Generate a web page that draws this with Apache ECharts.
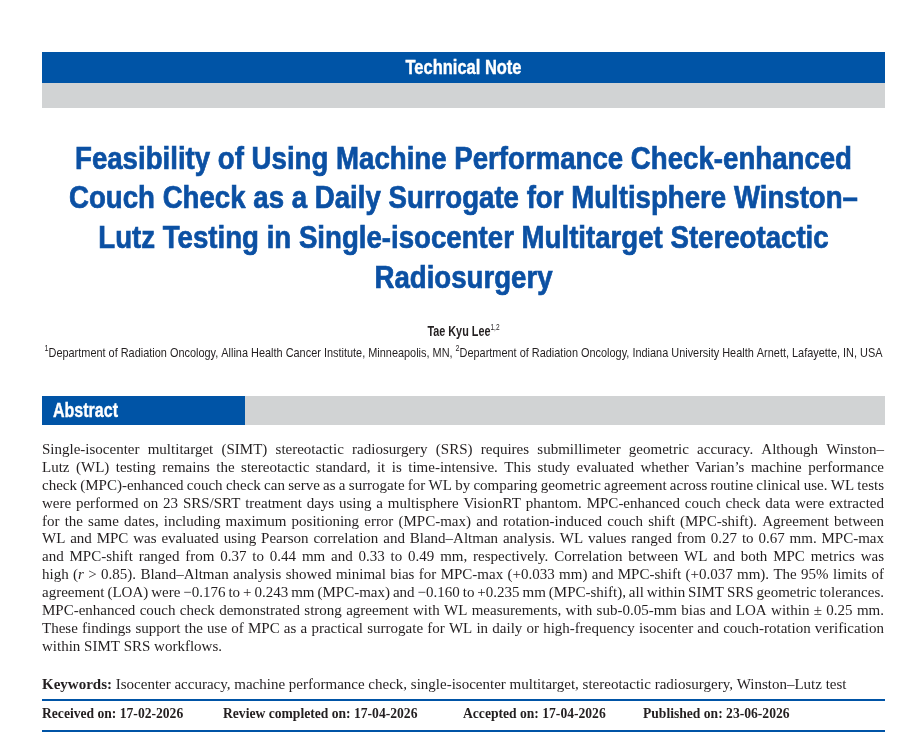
<!DOCTYPE html>
<html>
<head>
<meta charset="utf-8">
<script src="https://cdn.jsdelivr.net/npm/echarts@6/dist/echarts.min.js"></script>
<style>
html,body{margin:0;padding:0;background:#fff;}
#main{width:920px;height:750px;}
</style>
</head>
<body>
<div id="main"></div>
<script>
// ---- content ----
const bannerLabel = 'Technical Note';
const titleLines = [
  'Feasibility of Using Machine Performance Check-enhanced',
  'Couch Check as a Daily Surrogate for Multisphere Winston–',
  'Lutz Testing in Single-isocenter Multitarget Stereotactic',
  'Radiosurgery'
];
const authorName = 'Tae Kyu Lee';
const authorSup = '1,2';
const affiliationSups = ['1', '2'];
const affiliationTexts = [
  'Department of Radiation Oncology, Allina Health Cancer Institute, Minneapolis, MN, ',
  'Department of Radiation Oncology, Indiana University Health Arnett, Lafayette, IN, USA'
];
const sectionLabel = 'Abstract';
const abstractLines = [
  'Single-isocenter multitarget (SIMT) stereotactic radiosurgery (SRS) requires submillimeter geometric accuracy. Although Winston–',
  'Lutz (WL) testing remains the stereotactic standard, it is time-intensive. This study evaluated whether Varian’s machine performance',
  'check (MPC)-enhanced couch check can serve as a surrogate for WL by comparing geometric agreement across routine clinical use. WL tests',
  'were performed on 23 SRS/SRT treatment days using a multisphere VisionRT phantom. MPC-enhanced couch check data were extracted',
  'for the same dates, including maximum positioning error (MPC-max) and rotation-induced couch shift (MPC-shift). Agreement between',
  'WL and MPC was evaluated using Pearson correlation and Bland–Altman analysis. WL values ranged from 0.27 to 0.67 mm. MPC-max',
  'and MPC-shift ranged from 0.37 to 0.44 mm and 0.33 to 0.49 mm, respectively. Correlation between WL and both MPC metrics was',
  'high (*r* > 0.85). Bland–Altman analysis showed minimal bias for MPC-max (+0.033 mm) and MPC-shift (+0.037 mm). The 95% limits of',
  'agreement (LOA) were −0.176 to + 0.243 mm (MPC-max) and −0.160 to +0.235 mm (MPC-shift), all within SIMT SRS geometric tolerances.',
  'MPC-enhanced couch check demonstrated strong agreement with WL measurements, with sub-0.05-mm bias and LOA within ± 0.25 mm.',
  'These findings support the use of MPC as a practical surrogate for WL in daily or high-frequency isocenter and couch-rotation verification',
  'within SIMT SRS workflows.'
];
const keywordsLabel = 'Keywords:';
const keywordsText = ' Isocenter accuracy, machine performance check, single-isocenter multitarget, stereotactic radiosurgery, Winston–Lutz test';
const dateLabels = [
  'Received on: 17-02-2026',
  'Review completed on: 17-04-2026',
  'Accepted on: 17-04-2026',
  'Published on: 23-06-2026'
];

// ---- style ----
const BLUE = '#0054a6';
const TITLE_BLUE = '#0b50a3';
const GRAY = '#d1d3d4';
const INK = '#231f20';
const SANS = '"Liberation Sans", Arial, sans-serif';
const SERIF = '"Liberation Serif", "Times New Roman", serif';
const LEFT = 42, RIGHT = 885, CX = 463.5;

const mctx = document.createElement('canvas').getContext('2d');
function measure(t, font) { mctx.font = font; return mctx.measureText(t).width; }
// horizontal compression that turns the regular sans into a condensed face of the given width
function fitScale(t, font, targetW) { return targetW / measure(t, font); }

const els = [];
function txt(t, x, y, font, fill, align, sx, stroke) {
  const style = { text: t, x: 0, y: 0, font: font, fill: fill || INK, align: align || 'left', verticalAlign: 'middle' };
  if (stroke) { style.stroke = fill; style.lineWidth = stroke; }
  els.push({ type: 'text', silent: true, x: x, y: y, scaleX: sx || 1, style: style });
}
// run of pieces [{t, font, dy}] placed sequentially, all compressed by sx
function run(pieces, x, y, align, fill, sx, stroke) {
  sx = sx || 1;
  const w = pieces.reduce((s, p) => s + measure(p.t, p.font) * sx, 0);
  let cx = align === 'center' ? x - w / 2 : (align === 'right' ? x - w : x);
  pieces.forEach(p => {
    txt(p.t, cx, y + (p.dy || 0), p.font, fill, 'left', sx, p.sup ? 0 : stroke);
    cx += measure(p.t, p.font) * sx;
  });
  return w;
}

// top banner
els.push({ type: 'rect', silent: true, shape: { x: LEFT, y: 52, width: RIGHT - LEFT, height: 31 }, style: { fill: BLUE } });
els.push({ type: 'rect', silent: true, shape: { x: LEFT, y: 83, width: RIGHT - LEFT, height: 25 }, style: { fill: GRAY } });
const bannerFont = 'bold 20px ' + SANS;
txt(bannerLabel, CX, 68.5, bannerFont, '#ffffff', 'center', fitScale(bannerLabel, bannerFont, 116), 0.4);

// title
const titleFont = 'bold 32px ' + SANS;
const titleSx = fitScale(titleLines[0], titleFont, 777);
const titleY = [160, 199.5, 239.5, 279];
titleLines.forEach((l, i) => txt(l, CX, titleY[i], titleFont, TITLE_BLUE, 'center', titleSx, 0.7));

// author
const authorFont = 'bold 14px ' + SANS;
const authorSx = fitScale(authorName, authorFont, 63);
run([
  { t: authorName, font: authorFont },
  { t: authorSup, font: '8.5px ' + SANS, dy: -4, sup: true }
], CX, 332, 'center', INK, authorSx);

// affiliation
const affFont = '13px ' + SANS, supFont = '8.5px ' + SANS;
const affSx = fitScale(affiliationTexts[0] + affiliationTexts[1], affFont, 830);
run([
  { t: affiliationSups[0], font: supFont, dy: -4 },
  { t: affiliationTexts[0], font: affFont },
  { t: affiliationSups[1], font: supFont, dy: -4 },
  { t: affiliationTexts[1], font: affFont }
], CX, 353, 'center', INK, affSx);

// abstract header
els.push({ type: 'rect', silent: true, shape: { x: LEFT, y: 396, width: 203, height: 29 }, style: { fill: BLUE } });
els.push({ type: 'rect', silent: true, shape: { x: 245, y: 396, width: RIGHT - 245, height: 29 }, style: { fill: GRAY } });
const secFont = 'bold 21px ' + SANS;
txt(sectionLabel, 53, 411, secFont, '#ffffff', 'left', fitScale(sectionLabel, secFont, 65), 0.4);

// abstract body (justified)
const bodySize = 15;
const bodyFont = bodySize + 'px ' + SERIF;
const bodyItalic = 'italic ' + bodySize + 'px ' + SERIF;
const textW = 884 - LEFT;
function wordPieces(w) {
  const parts = w.split('*');
  const out = [];
  parts.forEach((s, i) => { if (s.length) out.push({ t: s, font: i % 2 === 1 ? bodyItalic : bodyFont }); });
  return out;
}
abstractLines.forEach((line, i) => {
  const y = 450 + i * 17.9;
  const words = line.split(' ').map(wordPieces);
  const widths = words.map(ps => ps.reduce((s, p) => s + measure(p.t, p.font), 0));
  const total = widths.reduce((a, b) => a + b, 0);
  const last = i === abstractLines.length - 1;
  const gap = last ? measure(' ', bodyFont) : (textW - total) / (words.length - 1);
  let x = LEFT;
  words.forEach((ps, k) => {
    let px = x;
    ps.forEach(p => { txt(p.t, px, y, p.font, INK, 'left'); px += measure(p.t, p.font); });
    x += widths[k] + gap;
  });
});

// keywords
run([
  { t: keywordsLabel, font: 'bold 15px ' + SERIF },
  { t: keywordsText, font: '15px ' + SERIF }
], LEFT, 685, 'left', INK);

// rules and dates
els.push({ type: 'line', silent: true, shape: { x1: LEFT, y1: 700, x2: RIGHT, y2: 700 }, style: { stroke: BLUE, lineWidth: 2 } });
els.push({ type: 'line', silent: true, shape: { x1: LEFT, y1: 731, x2: RIGHT, y2: 731 }, style: { stroke: BLUE, lineWidth: 2 } });
const dateX = [42, 223, 463, 643];
dateLabels.forEach((d, i) => txt(d, dateX[i], 714, 'bold 13.6px ' + SERIF, INK, 'left'));

const chart = echarts.init(document.getElementById('main'), null, { renderer: 'canvas' });
chart.setOption({
  backgroundColor: '#ffffff',
  animation: false,
  graphic: { elements: els }
});
</script>
</body>
</html>
